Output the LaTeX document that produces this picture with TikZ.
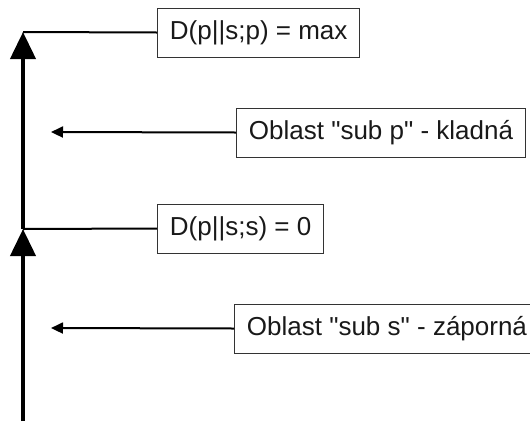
\documentclass[tikz,border=0pt]{standalone}
\usepackage{fontspec}
\setmainfont{Liberation Sans}[Ligatures=TeXOff]
\usetikzlibrary{arrows.meta}
\begin{document}
\begin{tikzpicture}[x=1pt,y=-1pt,
  lbox/.style={draw=black!80,line width=0.9pt,anchor=west,minimum height=49pt,
    inner xsep=12.5pt,font=\fontsize{26}{30}\selectfont,text=black!90},
  axis/.style={line width=4pt,-{Triangle[length=27pt,width=25pt]}},
  conn/.style={line width=2pt},
  pointer/.style={line width=2pt,-{Triangle[length=12pt,width=11pt]}}]
\useasboundingbox (0,0) rectangle (530,421);
\coordinate (bot) at (23,421);
\coordinate (mid) at (23,229);
\coordinate (top) at (23,32);
\coordinate (a2) at (51,132);
\coordinate (a4) at (51,328);
\node[lbox] (b1) at (157,32.5) {D(p||s;p) = max};
\node[lbox] (b2) at (236,132.5) {Oblast "sub p" - kladná};
\node[lbox] (b3) at (157,228.5) {D(p||s;s) = 0};
\node[lbox] (b4) at (234,328.5) {Oblast "sub s" - záporná};
\draw[axis] (bot) -- (mid);
\draw[axis] (mid) -- (top);
\draw[conn] (b1.west) -- (top);
\draw[conn] (b3.west) -- (mid);
\draw[pointer] (b2.west) -- (a2);
\draw[pointer] (b4.west) -- (a4);
\end{tikzpicture}
\end{document}
